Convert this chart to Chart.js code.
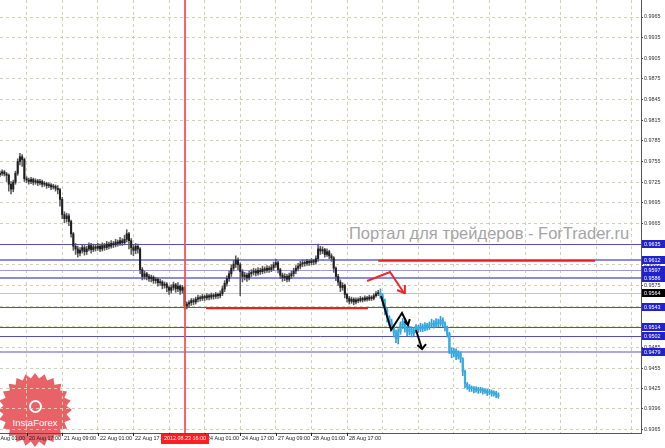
<!DOCTYPE html>
<html><head><meta charset="utf-8">
<script src="https://cdn.jsdelivr.net/npm/chart.js@4.4.1/dist/chart.umd.min.js"></script>
<style>
html,body{margin:0;padding:0;background:#fff;}
#wrap{position:relative;width:665px;height:448px;overflow:hidden;background:#fff;}
#logo{position:absolute;left:-2px;top:373px;width:74px;height:74px;background:rgba(228,82,88,0.9);}
#logoIcon{position:absolute;left:29px;top:400px;width:9px;height:9px;border:2px solid #fff;border-radius:50%;}
#logoText{position:absolute;left:-1px;top:417px;width:72px;text-align:center;color:#fff;font:9.5px 'Liberation Sans',Arial,sans-serif;}
#wm{position:absolute;left:349px;top:225px;color:#a4a4a4;font:16.5px/16.5px 'Liberation Sans',Arial,sans-serif;white-space:nowrap;}
canvas{position:absolute;left:0;top:0;}
</style></head>
<body>
<div id="wrap">
<div id="logo"></div><div id="logoIcon"></div><div id="logoText">InstaForex</div>
<div id="wm">Портал для трейдеров - ForTrader.ru</div>
<canvas id="c" width="665" height="448"></canvas>
</div>
<script>
// ---- DATA (prices in pips: price x 10000) ----
// bar index = trading hours since 20 Aug 2012 01:00 (H1 bars)
const historyStart = 4;
const historyOpen = [9736,9738,9740,9737,9735,9722,9715,9725,9738,9755,
 9762,9758,9730,9728,9726,9729,9725,9727,9724,9726,
 9722,9723,9720,9721,9718,9719,9716,9714,9700,9678,
 9672,9676,9668,9650,9632,9628,9622,9626,9630,9624,
 9628,9633,9627,9631,9629,9632,9628,9633,9630,9635,
 9632,9636,9634,9638,9636,9640,9637,9642,9650,9640,
 9630,9626,9632,9628,9598,9588,9592,9588,9585,9587,
 9582,9584,9579,9580,9575,9577,9572,9568,9572,9576,
 9570,9574,9568,9572,9545,9548,9550,9553,9551,9555,
 9557,9556,9559,9557,9560,9558,9561,9559,9562,9560,
 9563,9570,9578,9585,9592,9600,9606,9612,9605,9595,
 9588,9590,9586,9592,9594,9596,9593,9597,9595,9599,
 9597,9600,9598,9601,9605,9608,9598,9590,9586,9588,
 9584,9589,9592,9596,9600,9603,9606,9608,9607,9610,
 9608,9611,9609,9614,9628,9625,9627,9620,9624,9618,
 9615,9600,9588,9580,9572,9575,9562,9556,9552,9555,
 9551,9554,9553,9556,9554,9557,9555,9558,9556,9560,
 9563];
const historyHigh = [9741,9743,9742,9739,9737,9726,9728,9741,9759,9767,
 9765,9760,9733,9731,9732,9731,9730,9729,9729,9728,
 9726,9725,9724,9723,9722,9721,9720,9716,9703,9682,
 9680,9679,9670,9652,9636,9632,9630,9634,9633,9632,
 9637,9636,9635,9634,9636,9635,9637,9636,9639,9638,
 9640,9639,9642,9641,9645,9643,9648,9656,9652,9643,
 9634,9636,9635,9630,9601,9596,9594,9591,9590,9589,
 9587,9586,9584,9582,9580,9579,9574,9576,9580,9578,
 9579,9576,9575,9574,9551,9553,9556,9556,9558,9561,
 9560,9562,9561,9563,9562,9564,9563,9565,9564,9567,
 9574,9582,9589,9596,9605,9611,9618,9615,9608,9598,
 9594,9593,9596,9598,9600,9599,9601,9600,9603,9602,
 9604,9603,9605,9609,9613,9610,9600,9593,9592,9591,
 9593,9596,9600,9604,9607,9610,9612,9611,9613,9612,
 9614,9613,9618,9635,9632,9631,9629,9628,9626,9621,
 9617,9602,9591,9583,9579,9577,9564,9559,9558,9557,
 9557,9557,9559,9558,9560,9559,9561,9560,9563,9566,
 9568];
const historyLow = [9733,9735,9734,9726,9712,9708,9711,9722,9735,9750,
 9748,9726,9724,9722,9723,9721,9722,9720,9721,9718,
 9719,9716,9717,9714,9715,9712,9708,9690,9672,9666,
 9667,9662,9645,9626,9620,9616,9618,9622,9619,9620,
 9625,9622,9624,9625,9626,9624,9625,9626,9627,9628,
 9629,9630,9631,9632,9633,9633,9634,9638,9628,9620,
 9618,9621,9622,9592,9583,9584,9583,9581,9580,9578,
 9578,9574,9575,9570,9571,9566,9562,9564,9568,9565,
 9566,9562,9564,9540,9541,9544,9546,9547,9548,9551,
 9552,9553,9553,9554,9554,9555,9555,9556,9556,9557,
 9560,9566,9574,9581,9588,9596,9601,9598,9560,9580,
 9583,9581,9583,9588,9590,9589,9590,9591,9592,9593,
 9594,9594,9595,9597,9601,9593,9585,9581,9582,9580,
 9581,9585,9588,9592,9596,9599,9602,9603,9604,9604,
 9605,9605,9606,9610,9620,9621,9616,9617,9614,9610,
 9594,9582,9575,9566,9568,9557,9551,9548,9549,9547,
 9548,9550,9551,9551,9552,9552,9553,9553,9554,9558,
 9560];
const historyClose = [9738,9740,9737,9735,9722,9715,9725,9738,9755,9762,
 9758,9730,9728,9726,9729,9725,9727,9724,9726,9722,
 9723,9720,9721,9718,9719,9716,9714,9700,9678,9672,
 9676,9668,9650,9632,9628,9622,9626,9630,9624,9628,
 9633,9627,9631,9629,9632,9628,9633,9630,9635,9632,
 9636,9634,9638,9636,9640,9637,9642,9650,9640,9630,
 9626,9632,9628,9598,9588,9592,9588,9585,9587,9582,
 9584,9579,9580,9575,9577,9572,9568,9572,9576,9570,
 9574,9568,9572,9545,9548,9550,9553,9551,9555,9557,
 9556,9559,9557,9560,9558,9561,9559,9562,9560,9563,
 9570,9578,9585,9592,9600,9606,9612,9605,9595,9588,
 9590,9586,9592,9594,9596,9593,9597,9595,9599,9597,
 9600,9598,9601,9605,9608,9598,9590,9586,9588,9584,
 9589,9592,9596,9600,9603,9606,9608,9607,9610,9608,
 9611,9609,9614,9628,9625,9627,9620,9624,9618,9615,
 9600,9588,9580,9572,9575,9562,9556,9552,9555,9551,
 9554,9553,9556,9554,9557,9555,9558,9556,9560,9563,
 9564];

const forecastStart = 175;
const forecastOpen = [9564,9560,9552,9540,9528,9522,9515,9506,9498,9508,
 9518,9522,9512,9508,9512,9505,9510,9514,9511,9516,
 9512,9517,9514,9518,9520,9517,9522,9519,9525,9520,
 9514,9505,9480,9476,9480,9472,9476,9468,9450,9432,
 9428,9425,9426,9423,9425,9422,9424,9421,9422,9419,
 9421,9418,9419,9416];
const forecastHigh = [9570,9563,9555,9543,9531,9526,9518,9510,9512,9522,
 9527,9525,9516,9516,9515,9514,9518,9517,9520,9519,
 9521,9520,9522,9526,9524,9527,9526,9530,9528,9522,
 9516,9507,9484,9484,9483,9480,9478,9470,9452,9434,
 9431,9429,9428,9428,9427,9427,9426,9425,9424,9424,
 9423,9422,9421,9419];
const forecastLow = [9556,9545,9532,9522,9516,9510,9500,9492,9490,9504,
 9512,9507,9502,9503,9500,9502,9506,9507,9508,9508,
 9509,9510,9511,9514,9513,9514,9515,9516,9515,9509,
 9500,9476,9470,9471,9467,9468,9463,9444,9426,9424,
 9421,9421,9419,9420,9418,9419,9417,9418,9415,9416,
 9414,9414,9412,9411];
const forecastClose = [9560,9552,9540,9528,9522,9515,9506,9498,9508,9518,
 9522,9512,9508,9512,9505,9510,9514,9511,9516,9512,
 9517,9514,9518,9520,9517,9522,9519,9525,9520,9514,
 9505,9480,9476,9480,9472,9476,9468,9450,9432,9428,
 9425,9426,9423,9425,9422,9424,9421,9422,9419,9421,
 9418,9419,9416,9414];

const timeLabels = ['20 Aug 01:00','20 Aug 17:00','21 Aug 09:00','22 Aug 01:00','22 Aug 17:00',
 '23 Aug 09:00','24 Aug 01:00','24 Aug 17:00','27 Aug 09:00','28 Aug 01:00','28 Aug 17:00'];
const hoursPerLabel = 16;
const priceTicks = [0.9965,0.9935,0.9905,0.9875,0.9845,0.9815,0.9785,0.9755,0.9725,0.9695,0.9665,
 0.9635,0.9605,0.9575,0.9545,0.9515,0.9485,0.9455,0.9425,0.9396,0.9365];
const levelPrices = [0.9635,0.9612,0.9597,0.9586,0.9543,0.9514,0.9502,0.9479];
const bidPrice = 0.9564;
const markerIndex = 87, markerLabel = '2012.08.23 16:00';
// red support / resistance segments: [fromBar, toBar, price]
const upperSegment = [174, 271.5, 0.9611];
const lowerSegment = [96.6, 169.4, 0.9542];
// hand-drawn arrows: [bar, price] vertices
const redPath = [[169,0.95814],[179.3,0.95945],[185.6,0.95640]];
const redHead = [[182.5,0.95684],[185.6,0.95640],[186,0.95756]];
const blackPath = [[175.3,0.95597],[179.8,0.95103],[184.7,0.95350],[187.4,0.95175]];
const blackHead = [[185.8,0.95230],[187.4,0.95175],[188.2,0.95260]];
const blackPath2 = [[191,0.95103],[193.7,0.94827]];
const blackHead2 = [[191.6,0.94885],[193.7,0.94827],[195.5,0.94899]];

// ---- STYLE ----
const gridColor = '#d3cfb3';
const levelStyle = {
  0.9635:['#5252b6',1], 0.9612:['#8a8ae0',2], 0.9597:['#9a9ad4',1], 0.9586:['#8a8ae0',2],
  0.9543:['#5252b6',1], 0.9514:['#5252b6',1], 0.9502:['#5252b6',1], 0.9479:['#a8a8ea',2]
};
const FONT = '"Liberation Sans", Arial, sans-serif';

const p = v => v / 10000;
const wicks = (start, hi, lo) => hi.map((h, k) => ({x: start + k, y: [p(lo[k]), p(h)]}));
const bodies = (start, op, cl) => op.map((o, k) => ({x: start + k, y: [p(o), p(cl[k])]}));
const pts = arr => arr.map(a => ({x: a[0], y: a[1]}));

const lineDs = (data, color) => ({type:'line', data: pts(data), borderColor: color, borderWidth: 2,
  pointRadius: 0, fill: false, tension: 0, order: 0});

const overlay = {
  id: 'overlay',
  beforeDatasetsDraw(chart) {
    const {ctx, chartArea: a, scales: {y}} = chart;
    ctx.save();
    ctx.beginPath(); ctx.rect(a.left, a.top, a.right - a.left, a.bottom - a.top); ctx.clip();
    let yy = Math.round(y.getPixelForValue(bidPrice)) + 0.5;
    ctx.strokeStyle = '#c4c4c4'; ctx.lineWidth = 1;
    ctx.beginPath(); ctx.moveTo(a.left, yy); ctx.lineTo(a.right, yy); ctx.stroke();
    levelPrices.forEach(v => {
      const [c, w] = levelStyle[v];
      const py = y.getPixelForValue(v);
      ctx.strokeStyle = c; ctx.lineWidth = w;
      const yy2 = w % 2 ? Math.round(py) + 0.5 : Math.round(py);
      ctx.beginPath(); ctx.moveTo(a.left, yy2); ctx.lineTo(a.right, yy2); ctx.stroke();
    });
    ctx.restore();
  },
  afterDatasetsDraw(chart) {
    const {ctx, chartArea: a, scales: {x}} = chart;
    ctx.save();
    const mx = Math.round(x.getPixelForValue(markerIndex));
    ctx.fillStyle = 'rgba(255,70,70,0.85)';
    ctx.fillRect(mx - 1, a.top, 2, a.bottom - a.top);
    ctx.restore();
  },
  afterDraw(chart) {
    const {ctx, chartArea: a, scales: {x, y}} = chart;
    ctx.save();
    ctx.font = '5.4px ' + FONT;
    ctx.textBaseline = 'middle';
    ctx.fillStyle = '#222';
    timeLabels.forEach((t, k) => {
      const px = Math.round(x.getPixelForValue(k * hoursPerLabel));
      ctx.fillRect(px, a.bottom, 1, 3);
      ctx.fillText(t, px + 2, a.bottom + 6);
    });
    const mx = Math.round(x.getPixelForValue(markerIndex));
    const tw = ctx.measureText(markerLabel).width;
    ctx.fillStyle = '#ff1e1e';
    ctx.fillRect(mx - tw / 2 - 3, a.bottom + 1, tw + 6, 10);
    ctx.fillStyle = '#fff';
    ctx.fillText(markerLabel, mx - tw / 2, a.bottom + 6);
    const box = (v, bg) => {
      const py = Math.round(y.getPixelForValue(v));
      ctx.fillStyle = bg;
      ctx.fillRect(a.right + 1, py - 4, 24, 8);
      ctx.fillStyle = '#fff';
      ctx.fillText(v.toFixed(4), a.right + 3, py + 0.5);
    };
    levelPrices.forEach(v => box(v, '#2222cc'));
    box(bidPrice, '#000');
    ctx.restore();
  }
};

new Chart(document.getElementById('c'), {
  type: 'bar',
  data: {
    datasets: [
      lineDs(redPath, '#f02828'), lineDs(redHead, '#f02828'),
      lineDs(blackPath, '#000'), lineDs(blackHead, '#000'),
      lineDs(blackPath2, '#000'), lineDs(blackHead2, '#000'),
      lineDs([[upperSegment[0], upperSegment[2]], [upperSegment[1], upperSegment[2]]], '#e82020'),
      lineDs([[lowerSegment[0], lowerSegment[2]], [lowerSegment[1], lowerSegment[2]]], '#e82020'),
      {data: bodies(historyStart, historyOpen, historyClose), backgroundColor: '#1e1e1e',
        barThickness: 1.4, minBarLength: 1, grouped: false, order: 1},
      {data: wicks(historyStart, historyHigh, historyLow), backgroundColor: '#5a5a5a',
        barThickness: 0.9, grouped: false, order: 2},
      {data: bodies(forecastStart, forecastOpen, forecastClose), backgroundColor: '#36ace0',
        barThickness: 1.6, minBarLength: 1, grouped: false, order: 1},
      {data: wicks(forecastStart, forecastHigh, forecastLow), backgroundColor: '#2ea0d4',
        barThickness: 1, grouped: false, order: 2}
    ]
  },
  options: {
    responsive: false, animation: false, devicePixelRatio: 1,
    layout: {padding: 0},
    plugins: {legend: {display: false}, tooltip: {enabled: false}},
    scales: {
      x: {
        type: 'linear', min: 4.045, max: 292.1, bounds: 'data', position: 'bottom', offset: false,
        afterBuildTicks: s => { const t = []; for (let v = 0; v <= s.max; v += hoursPerLabel) if (v >= s.min) t.push({value: v}); s.ticks = t; },
        afterFit: s => { s.height = 15; s.paddingLeft = 0; s.paddingRight = 0; },
        ticks: {display: false},
        grid: {color: gridColor, drawTicks: false, lineWidth: 1, offset: false},
        border: {display: true, color: '#555', dash: [3, 3]}
      },
      y: {
        position: 'right', min: 0.93606, max: 0.99897, bounds: 'data',
        afterBuildTicks: s => { s.ticks = priceTicks.map(v => ({value: v})); },
        afterFit: s => { s.width = 24; s.paddingTop = 0; s.paddingBottom = 0; },
        ticks: {color: '#333', autoSkip: false, padding: 1, font: {family: FONT, size: 5.4},
          callback: v => Number(v).toFixed(4)},
        grid: {color: gridColor, tickColor: '#444', tickLength: 2, drawTicks: true},
        border: {display: true, color: '#555', dash: [3, 3]}
      }
    }
  },
  plugins: [overlay]
});

(function(){
  const n = 24, pts2 = [];
  for (let i = 0; i < n * 2; i++) {
    const r = i % 2 ? 43 : 50, ang = Math.PI * i / n;
    pts2.push((50 + r * Math.cos(ang)).toFixed(1) + '% ' + (50 + r * Math.sin(ang)).toFixed(1) + '%');
  }
  document.getElementById('logo').style.clipPath = 'polygon(' + pts2.join(',') + ')';
})();
</script>
</body></html>
